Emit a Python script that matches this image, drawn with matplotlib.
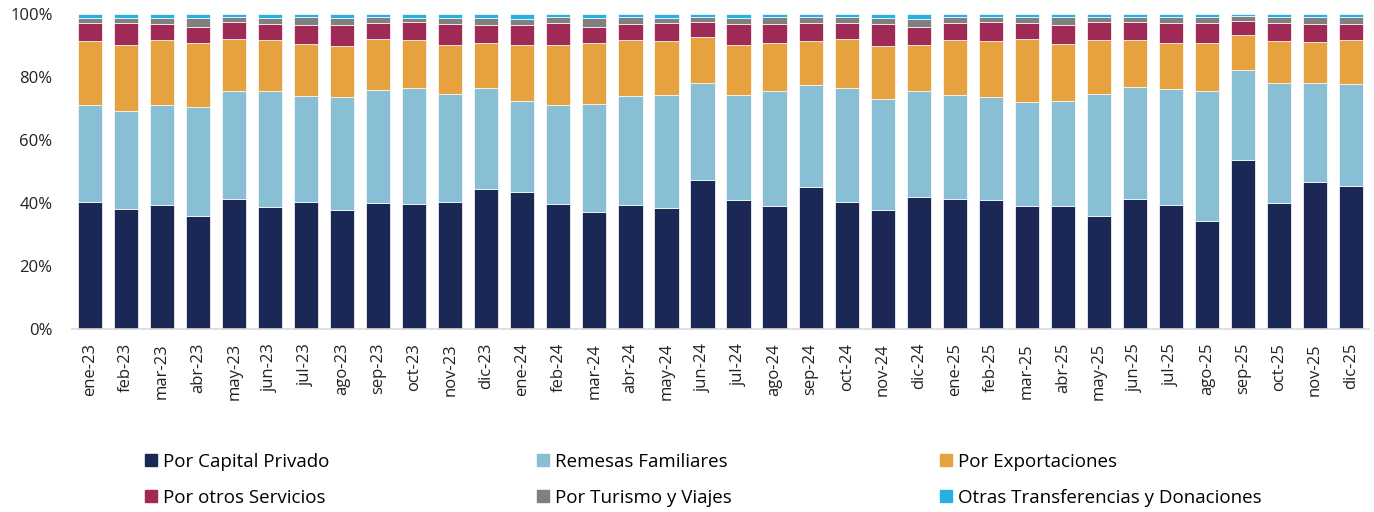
import matplotlib
matplotlib.use("Agg")
import matplotlib.pyplot as plt
from matplotlib.lines import Line2D
import numpy as np

months = ["ene-23", "feb-23", "mar-23", "abr-23", "may-23", "jun-23", "jul-23", "ago-23",
          "sep-23", "oct-23", "nov-23", "dic-23", "ene-24", "feb-24", "mar-24", "abr-24",
          "may-24", "jun-24", "jul-24", "ago-24", "sep-24", "oct-24", "nov-24", "dic-24",
          "ene-25", "feb-25", "mar-25", "abr-25", "may-25", "jun-25", "jul-25", "ago-25",
          "sep-25", "oct-25", "nov-25", "dic-25"]

# cumulative top of each segment (%)
top_capital = [40.3, 38.1, 39.4, 36.0, 41.3, 38.6, 40.4, 37.7, 39.9, 39.7, 40.4, 44.3,
               43.5, 39.7, 37.2, 39.3, 38.4, 47.4, 41.0, 39.1, 45.2, 40.3, 37.7, 41.8,
               41.4, 41.0, 39.1, 38.9, 36.0, 41.4, 39.3, 34.2, 53.5, 40.1, 46.8, 45.4]
top_remesas = [71.1, 69.3, 71.2, 70.4, 75.7, 75.5, 74.1, 73.7, 75.9, 76.6, 74.6, 76.6,
               72.5, 71.1, 71.5, 73.9, 74.4, 78.2, 74.3, 75.6, 77.3, 76.6, 73.0, 75.5,
               74.3, 73.7, 72.0, 72.4, 74.7, 76.9, 76.3, 75.5, 82.2, 78.0, 78.2, 77.9]
top_export = [91.3, 90.3, 91.6, 90.8, 91.9, 91.6, 90.6, 89.8, 91.9, 91.7, 90.0, 90.9,
              90.3, 90.2, 90.8, 91.6, 91.4, 92.6, 90.0, 90.8, 91.4, 91.9, 89.7, 90.0,
              91.6, 91.4, 91.9, 90.6, 91.6, 91.7, 90.9, 90.9, 93.2, 91.3, 91.1, 91.6]
top_servicios = [97.0, 97.0, 96.7, 96.0, 97.5, 96.7, 96.4, 96.4, 97.0, 97.4, 96.7, 96.4,
                 96.6, 97.1, 96.0, 96.7, 97.1, 97.4, 96.7, 96.7, 97.1, 97.1, 96.7, 96.0,
                 97.0, 97.4, 97.0, 96.4, 97.4, 97.4, 97.0, 97.0, 97.7, 97.0, 96.7, 96.7]
top_turismo = [98.6, 98.6, 98.8, 98.6, 98.9, 98.8, 98.9, 98.8, 98.9, 98.8, 98.8, 98.8,
               98.3, 98.9, 98.8, 98.9, 98.8, 99.0, 98.8, 98.9, 99.0, 98.9, 98.8, 98.3,
               99.0, 98.9, 99.0, 99.0, 99.1, 99.0, 98.9, 99.0, 99.2, 99.0, 98.9, 99.0]

names = ["Por Capital Privado", "Remesas Familiares", "Por Exportaciones",
         "Por otros Servicios", "Por Turismo y Viajes", "Otras Transferencias y Donaciones"]
colors = ["#1B2855", "#89BFD5", "#E5A23F", "#9E2A55", "#808080", "#26B0E3"]

tops = np.array([top_capital, top_remesas, top_export, top_servicios, top_turismo,
                 [100.0] * len(months)])
bottoms = np.vstack([np.zeros(len(months)), tops[:-1]])
shares = tops - bottoms

plt.rcParams['font.family'] = ['Open Sans', 'DejaVu Sans']

fig = plt.figure(figsize=(13.74, 5.12), dpi=100)
ax = fig.add_axes([0.0524, 0.3574, 0.9440, 0.6153])

x = np.arange(len(months))
for i in range(len(names)):
    ax.bar(x, shares[i], bottom=bottoms[i], width=0.67, color=colors[i],
           edgecolor="white", linewidth=0.5, label=names[i])

ax.set_xlim(-0.5, len(months) - 0.5)
ax.set_ylim(0, 100)
ax.set_yticks([0, 20, 40, 60, 80, 100])
ax.set_yticklabels([f"{v}%" for v in [0, 20, 40, 60, 80, 100]], fontsize=12, color="#222222")
ax.set_xticks(x)
ax.set_xticklabels(months, rotation=90, fontsize=12, color="#222222")
ax.tick_params(axis="both", length=0)
ax.tick_params(axis="x", pad=10)
ax.tick_params(axis="y", pad=14)
for s in ["top", "right", "left"]:
    ax.spines[s].set_visible(False)
ax.spines["bottom"].set_color("#D9D9D9")
ax.spines["bottom"].set_linewidth(1.2)

handles = [Line2D([], [], marker="s", linestyle="none", markersize=9,
                  markerfacecolor=c, markeredgecolor=c) for c in colors]
order = [0, 3, 1, 4, 2, 5]
fig.legend([handles[i] for i in order], [names[i] for i in order], ncol=3,
           loc="upper left", bbox_to_anchor=(0.1, 0.13), frameon=False,
           fontsize=13.5, handlelength=0.65, handletextpad=0.3,
           columnspacing=11.1, labelspacing=0.95, borderaxespad=0)

fig.savefig("out.png", dpi=100)
